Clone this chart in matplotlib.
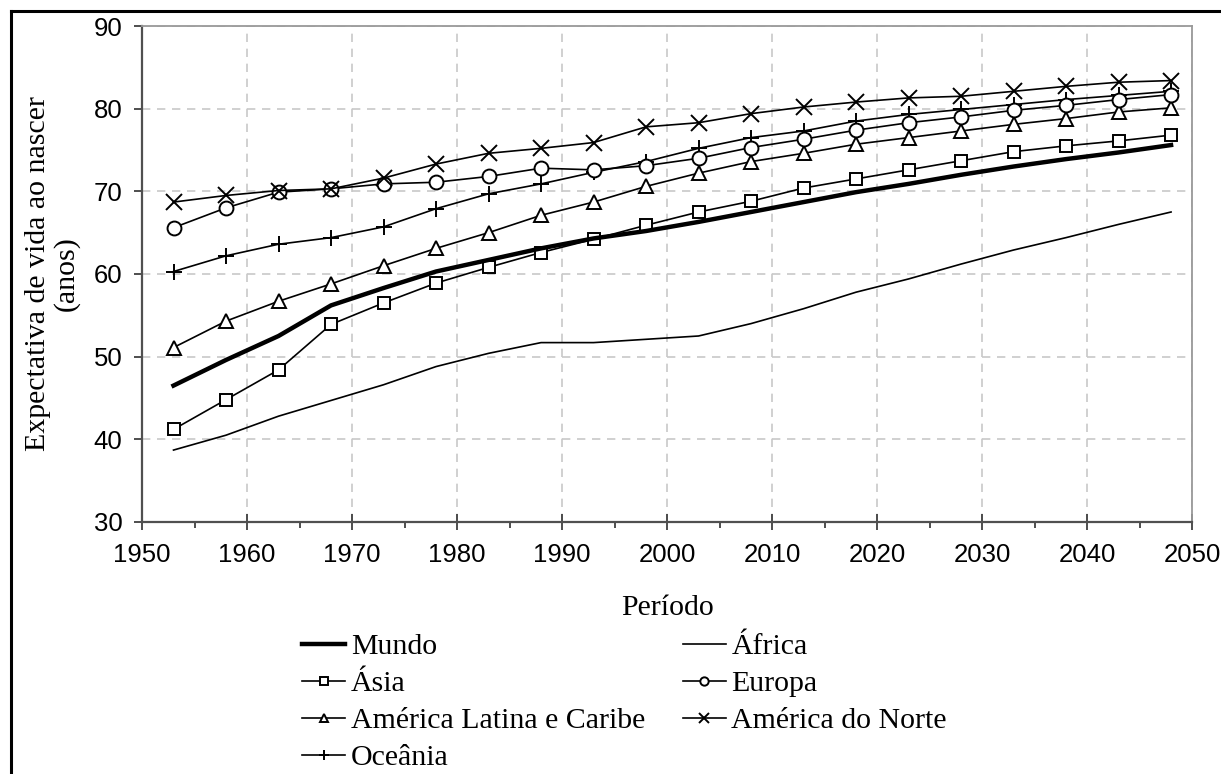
import matplotlib.pyplot as plt
from matplotlib.lines import Line2D
from matplotlib.ticker import MultipleLocator

# periods (mid-point of each 5-year interval)
anos = [1953, 1958, 1963, 1968, 1973, 1978, 1983, 1988, 1993, 1998,
        2003, 2008, 2013, 2018, 2023, 2028, 2033, 2038, 2043, 2048]

mundo = [46.5, 49.6, 52.5, 56.2, 58.3, 60.3, 61.7, 63.1, 64.3, 65.2,
         66.3, 67.5, 68.7, 69.9, 70.9, 72.0, 73.0, 73.9, 74.7, 75.6]
africa = [38.7, 40.5, 42.8, 44.7, 46.6, 48.8, 50.4, 51.7, 51.7, 52.1,
          52.5, 54.0, 55.8, 57.8, 59.4, 61.2, 62.9, 64.4, 66.0, 67.5]
asia = [41.2, 44.8, 48.4, 53.9, 56.5, 58.9, 60.8, 62.6, 64.2, 65.9,
        67.5, 68.8, 70.4, 71.5, 72.6, 73.7, 74.8, 75.5, 76.1, 76.8]
europa = [65.6, 68.0, 69.9, 70.3, 70.9, 71.1, 71.8, 72.8, 72.6, 73.1,
          74.0, 75.3, 76.3, 77.4, 78.3, 79.0, 79.8, 80.4, 81.1, 81.7]
america_latina = [51.1, 54.3, 56.7, 58.8, 61.0, 63.1, 65.0, 67.1, 68.7, 70.6,
                  72.2, 73.6, 74.6, 75.7, 76.5, 77.3, 78.1, 78.8, 79.6, 80.1]
america_norte = [68.7, 69.5, 70.1, 70.3, 71.6, 73.3, 74.6, 75.2, 75.9, 77.8,
                 78.3, 79.4, 80.2, 80.8, 81.3, 81.5, 82.1, 82.7, 83.2, 83.4]
oceania = [60.3, 62.2, 63.6, 64.4, 65.7, 67.9, 69.7, 70.9, 72.3, 73.6,
           75.2, 76.5, 77.3, 78.5, 79.3, 79.9, 80.5, 81.1, 81.6, 82.1]

serif = ['Liberation Serif', 'DejaVu Serif']
sans = ['Liberation Sans', 'DejaVu Sans']

fig = plt.figure(figsize=(12.21, 7.74), dpi=100)
ax = fig.add_axes([0.1163, 0.3256, 0.8600, 0.6408])

mk = dict(color='black', lw=1.2, mfc='white', mec='black', mew=1.4)
ax.plot(anos, mundo, color='black', lw=3.2, label='Mundo', zorder=3)
ax.plot(anos, asia, marker='s', ms=9, label='Ásia', **mk)
ax.plot(anos, america_latina, marker='^', ms=10, label='América Latina e Caribe', **mk)
ax.plot(anos, oceania, marker='+', ms=12, label='Oceânia', **mk)
ax.plot(anos, africa, color='black', lw=1.2, label='África')
ax.plot(anos, europa, marker='o', ms=10, label='Europa', **mk)
ax.plot(anos, america_norte, marker='x', ms=11, label='América do Norte', **mk)

ax.set_xlim(1950, 2050)
ax.set_ylim(30, 90)
ax.xaxis.set_major_locator(MultipleLocator(10))
ax.xaxis.set_minor_locator(MultipleLocator(5))
ax.yaxis.set_major_locator(MultipleLocator(10))
ax.grid(True, which='major', color='#c8c8c8', ls=(0, (5, 4)), lw=1.2)

for s in ['left', 'bottom']:
    ax.spines[s].set_color('#505050')
    ax.spines[s].set_linewidth(1.6)
for s in ['top', 'right']:
    ax.spines[s].set_color('#999999')
    ax.spines[s].set_linewidth(1.3)

ax.tick_params(axis='x', which='major', direction='inout', length=12, width=1.3,
               color='#404040', pad=9)
ax.tick_params(axis='x', which='minor', direction='out', length=4, width=1.3,
               color='#404040')
ax.tick_params(axis='y', which='major', direction='out', length=6, width=1.3,
               color='#404040', pad=8)
for lab in ax.get_xticklabels() + ax.get_yticklabels():
    lab.set_family(sans)
    lab.set_fontsize(18.5)

ax.set_ylabel('Expectativa de vida ao nascer\n(anos)', family=serif,
              fontsize=21.5, linespacing=1.1, labelpad=10)
ax.set_xlabel('Período', family=serif, fontsize=21.5, labelpad=20)

fig.legend(loc='upper left', bbox_to_anchor=(0.2473, 0.182), ncol=2,
           frameon=False, prop={'family': serif, 'size': 21.5},
           handlelength=1.45, handletextpad=0.18, columnspacing=1.27,
           labelspacing=0.34, borderpad=0, borderaxespad=0, markerscale=0.6)

# border lines of the original picture
fig.add_artist(Line2D([11 / 1221, 1], [1 - 11 / 774, 1 - 11 / 774],
                      transform=fig.transFigure, color='black', lw=2.2))
fig.add_artist(Line2D([11 / 1221, 11 / 1221], [0, 1 - 11 / 774],
                      transform=fig.transFigure, color='black', lw=2.2))

fig.savefig('out.png', dpi=100)
